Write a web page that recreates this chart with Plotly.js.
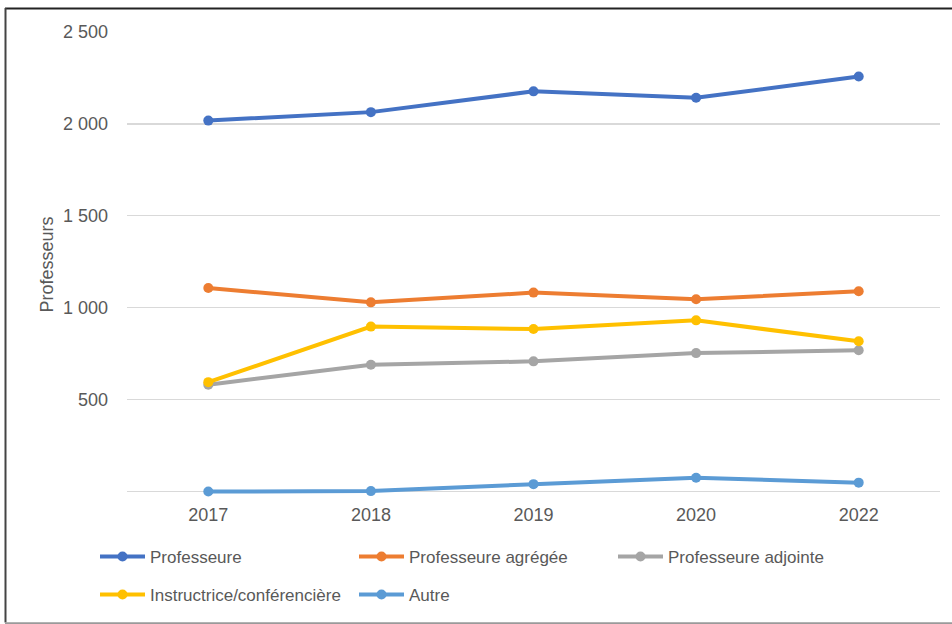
<!DOCTYPE html>
<html>
<head>
<meta charset="utf-8">
<script src="https://cdn.plot.ly/plotly-3.0.1.min.js"></script>
<style>html,body{margin:0;padding:0;background:#fff;}#chart{width:952px;height:624px;}</style>
</head>
<body>
<div id="chart"></div>
<script>
const years = ["2017", "2018", "2019", "2020", "2022"];
const professeure = [2018, 2064, 2177, 2142, 2258];
const agregee = [1107, 1029, 1082, 1046, 1089];
const adjointe = [581, 690, 708, 753, 768];
const instructrice = [595, 897, 884, 931, 817];
const autre = [0, 2, 40, 75, 48];
const names = ["Professeure", "Professeure agrégée", "Professeure adjointe", "Instructrice/conférencière", "Autre"];
const colors = ["#4472C4", "#ED7D31", "#A5A5A5", "#FFC000", "#5B9BD5"];
const yTickVals = [0, 500, 1000, 1500, 2000, 2500];
const yTickText = ["", "500", "1 000", "1 500", "2 000", "2 500"];

const series = [professeure, agregee, adjointe, instructrice, autre];
const FONT = "'Liberation Sans', Arial, sans-serif";
const traces = series.map((s, i) => ({
  type: "scatter", mode: "lines+markers", x: years, y: s, name: names[i],
  line: {color: colors[i], width: 4},
  marker: {color: colors[i], size: 10},
  cliponaxis: false,
  legend: i < 3 ? "legend" : "legend2"
}));

// plot area: 0 at y=491, 2500 at y=32; a little room below zero so the line is not clipped
const Y0 = 491, Y2500 = 32, YMIN = -30;
const pxPerUnit = (Y0 - Y2500) / 2500;
const L = 127, R = 940, T = Y2500, B = Y0 - YMIN * pxPerUnit;
const W = R - L, H = B - T;
const px = x => (x - L) / W;
const py = y => (B - y) / H;

const legendCommon = {
  orientation: "h", xanchor: "left", yanchor: "top",
  xref: "container", yref: "container",
  font: {family: FONT, size: 17, color: "#595959"},
  entrywidth: 199, entrywidthmode: "pixels",
  itemwidth: 45, bgcolor: "rgba(0,0,0,0)", traceorder: "normal"
};

const layout = {
  width: 952, height: 624,
  margin: {l: L, r: 952 - R, t: T, b: 624 - B},
  paper_bgcolor: "#fff", plot_bgcolor: "#fff",
  font: {family: FONT, size: 18, color: "#595959"},
  showlegend: true,
  xaxis: {
    type: "category", range: [-0.5, 4.5], showgrid: false, zeroline: false,
    showline: false, ticks: "outside", ticklen: 1.5, tickcolor: "rgba(0,0,0,0)",
    tickfont: {family: FONT, size: 18, color: "#595959"}, fixedrange: true
  },
  yaxis: {
    range: [YMIN, 2500], tickvals: yTickVals, ticktext: yTickText,
    showgrid: true, gridcolor: "#D9D9D9", gridwidth: 1.2, zeroline: false, showline: false,
    ticks: "", ticklabelstandoff: 18,
    tickfont: {family: FONT, size: 18, color: "#595959"},
    title: {text: "Professeurs", font: {family: FONT, size: 18, color: "#595959"}, standoff: 4},
    automargin: false, fixedrange: true
  },
  legend: Object.assign({}, legendCommon, {x: 95 / 952, y: 1 - 539 / 624}),
  legend2: Object.assign({}, legendCommon, {x: 95 / 952, y: 1 - 577 / 624}),
  shapes: [
    {type: "line", xref: "paper", yref: "paper", x0: px(5), x1: px(960), y0: py(8.5), y1: py(8.5), line: {color: "#222", width: 2}},
    {type: "line", xref: "paper", yref: "paper", x0: px(5.5), x1: px(5.5), y0: py(8), y1: py(622), line: {color: "#444", width: 2}},
    {type: "line", xref: "paper", yref: "paper", x0: px(5), x1: px(960), y0: py(622.5), y1: py(622.5), line: {color: "#9a9a9a", width: 2}}
  ]
};

Plotly.newPlot("chart", traces, layout, {displayModeBar: false, staticPlot: true});
</script>
</body>
</html>
